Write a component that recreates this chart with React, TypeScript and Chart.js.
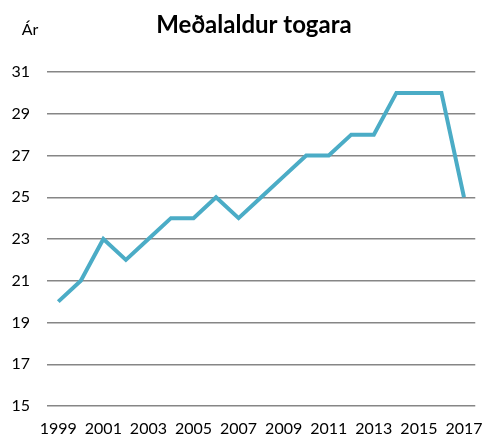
import React, { useEffect, useRef } from "react";
import { Chart, registerables } from "chart.js";

Chart.register(...registerables);

const years: string[] = ["1999","2000","2001","2002","2003","2004","2005","2006","2007","2008","2009","2010","2011","2012","2013","2014","2015","2016","2017"];
const avgAge: number[] = [20, 21, 23, 22, 23, 24, 24, 25, 24, 25, 26, 27, 27, 28, 28, 30, 30, 30, 25];
const titleText = "Meðalaldur togara";
const unitText = "Ár";

const FONT = "Lato, 'Open Sans', 'Liberation Sans', sans-serif";

export default function App() {
  const ref = useRef<HTMLCanvasElement | null>(null);
  useEffect(() => {
    document.body.style.margin = "0";
    const ctx = ref.current!;
    const textPlugin = {
      id: "textPlugin",
      afterDraw(chart: any) {
        const c = chart.ctx;
        c.save();
        c.fillStyle = "#000";
        c.textAlign = "center";
        c.textBaseline = "middle";
        c.font = `bold 24px ${FONT}`;
        c.fillText(titleText, 254, 25);
        c.font = `16px ${FONT}`;
        c.fillText(unitText, 30, 30);
        c.restore();
      },
    };
    const chart = new Chart(ctx, {
      type: "line",
      data: {
        labels: years,
        datasets: [
          {
            data: avgAge,
            borderColor: "#4BACC6",
            borderWidth: 4,
            pointRadius: 0,
            tension: 0,
            fill: false,
          },
        ],
      },
      options: {
        animation: false,
        responsive: false,
        layout: { padding: { top: 72, right: 17, left: 0, bottom: 0 } },
        plugins: { legend: { display: false }, title: { display: false }, tooltip: { enabled: false } },
        scales: {
          x: {
            offset: true,
            grid: { display: false, drawTicks: false },
            border: { display: false },
            ticks: {
              autoSkip: false,
              maxRotation: 0,
              color: "#000",
              font: { family: FONT, size: 16 },
              padding: 13,
              callback: (_v: any, i: number) => (i % 2 === 0 ? years[i] : ""),
            },
            afterFit: (s: any) => { s.height = 31; },
          },
          y: {
            min: 15,
            max: 31,
            grid: { color: "#868686", lineWidth: 1.5, drawTicks: false },
            border: { display: false },
            ticks: {
              stepSize: 2,
              color: "#000",
              font: { family: FONT, size: 16 },
              padding: 17,
            },
            afterFit: (s: any) => { s.width = 47; },
          },
        },
      },
      plugins: [textPlugin],
    });
    return () => chart.destroy();
  }, []);
  return <canvas ref={ref} width={496} height={437} style={{ display: "block" }} />;
}
